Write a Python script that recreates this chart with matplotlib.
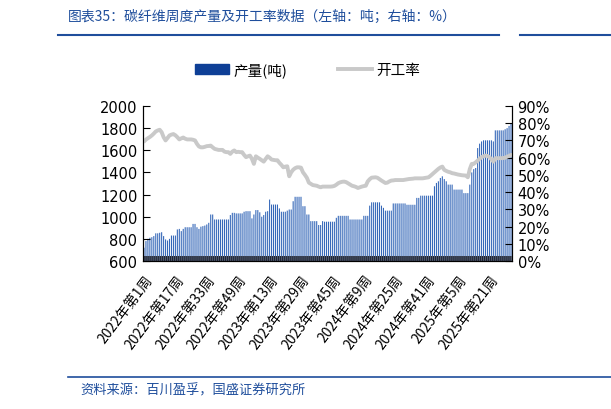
import matplotlib
matplotlib.use('Agg')
import matplotlib.pyplot as plt
from matplotlib.patches import Patch
from matplotlib.lines import Line2D

plt.rcParams['font.family'] = ['DejaVu Sans', 'Noto Sans CJK SC']

# weekly data, 2022 week 1 .. 2025 week 32
output = [
    720, 780, 800, 810, 815, 825, 850, 850, 855, 860,
    825, 795, 785, 800, 830, 830, 830, 885, 890, 870,
    890, 905, 905, 905, 905, 935, 935, 905, 890, 910,
    915, 920, 930, 945, 1020, 1020, 975, 975, 975, 975,
    975, 975, 975, 975, 1015, 1035, 1035, 1030, 1030, 1030,
    1030, 1045, 1050, 1050, 1050, 985, 1020, 1060, 1060, 1040,
    1000, 1015, 1045, 1050, 1155, 1110, 1110, 1110, 1110, 1075,
    1045, 1045, 1045, 1055, 1065, 1065, 1140, 1180, 1180, 1180,
    1180, 1095, 1095, 1020, 1020, 960, 960, 960, 960, 925,
    925, 960, 955, 955, 955, 955, 955, 955, 990, 1008,
    1008, 1008, 1008, 1008, 1008, 975, 975, 975, 975, 975,
    975, 975, 1008, 1008, 1008, 1100, 1130, 1130, 1130, 1130,
    1130, 1100, 1080, 1055, 1055, 1055, 1055, 1120, 1120, 1120,
    1120, 1120, 1120, 1120, 1108, 1108, 1108, 1108, 1108, 1170,
    1170, 1190, 1190, 1190, 1190, 1190, 1190, 1190, 1275, 1305,
    1320, 1350, 1365, 1340, 1320, 1290, 1290, 1290, 1245, 1245,
    1245, 1245, 1245, 1213, 1213, 1213, 1290, 1400, 1430, 1440,
    1620, 1660, 1680, 1690, 1690, 1690, 1690, 1690, 1680, 1780,
    1780, 1780, 1780, 1780, 1790, 1800, 1820, 1845,
]

rate = [
    69.4, 70.5, 71.3, 72.0, 72.9, 74.0, 75.2, 75.8, 76.2, 74.8,
    71.9, 70.0, 71.5, 72.9, 73.4, 73.7, 73.0, 71.9, 70.6, 71.2,
    71.7, 71.0, 70.6, 70.6, 70.6, 70.4, 70.0, 68.0, 66.5, 66.0,
    66.0, 66.3, 66.7, 66.8, 67.0, 66.0, 65.1, 64.8, 64.5, 64.5,
    64.5, 63.5, 63.2, 63.2, 62.2, 63.5, 64.2, 63.2, 63.4, 63.2,
    63.2, 61.6, 60.3, 60.8, 61.2, 59.3, 56.4, 60.8, 60.0, 59.3,
    58.5, 57.7, 59.3, 60.8, 60.0, 58.9, 58.7, 58.5, 58.5, 57.0,
    55.8, 54.4, 54.8, 55.0, 49.2, 51.5, 53.0, 53.9, 54.4, 54.4,
    54.2, 51.5, 50.0, 48.3, 45.5, 44.8, 44.1, 43.9, 43.7, 43.2,
    42.8, 43.2, 43.2, 43.2, 43.2, 43.2, 43.3, 43.6, 44.3, 45.2,
    45.7, 46.0, 46.1, 45.8, 45.1, 44.4, 43.7, 43.4, 43.0, 42.4,
    42.8, 43.2, 43.5, 43.7, 46.2, 47.5, 48.4, 48.5, 48.6, 48.3,
    47.5, 46.7, 46.0, 45.3, 45.5, 46.2, 46.7, 46.8, 47.0, 47.0,
    47.0, 47.0, 47.0, 47.2, 47.4, 47.6, 47.7, 47.8, 48.0, 48.0,
    48.0, 48.0, 48.0, 48.2, 48.4, 48.6, 49.5, 50.5, 51.5, 52.5,
    53.5, 54.3, 54.8, 52.9, 52.3, 51.8, 51.5, 51.0, 50.8, 50.5,
    50.2, 50.0, 49.8, 49.7, 49.6, 48.6, 53.4, 56.4, 56.4, 57.3,
    58.3, 59.3, 60.3, 60.8, 61.2, 61.0, 60.3, 59.0, 57.7, 59.7,
    59.7, 59.7, 59.7, 59.8, 59.9, 60.6, 61.0, 61.6,
]

tick_every = 16
tick_labels = ['2022年第1周', '2022年第17周', '2022年第33周', '2022年第49周',
               '2023年第13周', '2023年第29周', '2023年第45周', '2024年第9周',
               '2024年第25周', '2024年第41周', '2025年第5周', '2025年第21周']

BAR_BLUE = '#3467b8'
LEGEND_BLUE = '#0e3f96'
LINE_GRAY = '#c9c9c9'
TEXT_BLUE = '#1f4e9c'

x = list(range(len(output)))

fig = plt.figure(figsize=(6.11, 4.10), dpi=100)
ax = fig.add_axes([143 / 611, 1 - 262 / 410, (512 - 143) / 611, (262 - 107) / 410])

# snap off so the thin bars antialias evenly instead of clumping into blocks
ax.bar(x, [v - 600 for v in output], bottom=600, width=0.55, color=BAR_BLUE,
       linewidth=0, snap=False)
ax.set_ylim(600, 2000)
ax.set_yticks(range(600, 2001, 200))
ax.set_xlim(-0.5, len(output) - 0.5)

# dense week tick marks along the bottom
ax.axhspan(600, 645, color='#5a6478', lw=0, zorder=2.5)
ax.vlines([i + 0.5 for i in x[:-1]], 600, 645, colors='#1e2433', lw=0.8, snap=False, zorder=3)

ax2 = ax.twinx()
ax2.plot(x, rate, color=LINE_GRAY, lw=2.8, solid_capstyle='round')
ax2.set_ylim(0, 90)
ax2.set_yticks(range(0, 91, 10))
ax2.set_yticklabels([f'{v}%' for v in range(0, 91, 10)])

ax.set_xticks([i * tick_every for i in range(len(tick_labels))])
ax.set_xticklabels(tick_labels, rotation=53, ha='right', va='top', rotation_mode='anchor',
                   family=['Noto Sans CJK SC', 'DejaVu Sans'], fontsize=10)
ax.tick_params(axis='x', length=0, pad=8)
ax.tick_params(axis='y', direction='in', length=5, width=0.8, labelsize=10.5, pad=4)
ax2.tick_params(axis='y', direction='in', length=5, width=0.8, labelsize=10.5, pad=4)

for a in (ax, ax2):
    a.spines['top'].set_visible(False)
    a.spines['left'].set_linewidth(0.8)
    a.spines['right'].set_linewidth(0.8)
    a.spines['bottom'].set_linewidth(0.8)

handles = [Patch(color=LEGEND_BLUE), Line2D([], [], color=LINE_GRAY, lw=2.8)]
fig.legend(handles, ['产量(吨)', '开工率'], loc='center left', ncol=2,
           bbox_to_anchor=(182 / 611, 1 - 71 / 410), frameon=False,
           prop={'family': ['Noto Sans CJK SC'], 'size': 10.5},
           handlelength=2.3, handleheight=0.7, columnspacing=3.5, handletextpad=0.3)

fig.text(68 / 611, 1 - 17 / 410, '图表35：碳纤维周度产量及开工率数据（左轴：吨；右轴：%）',
         color=TEXT_BLUE, fontsize=10, style='italic', va='center',
         family=['Noto Sans CJK SC', 'DejaVu Sans'])
fig.add_artist(Line2D([58 / 611, 499 / 611], [1 - 36 / 410, 1 - 36 / 410],
                      color=TEXT_BLUE, lw=1.5))
fig.add_artist(Line2D([520 / 611, 1.0], [1 - 36 / 410, 1 - 36 / 410],
                      color=TEXT_BLUE, lw=1.5))
fig.add_artist(Line2D([68 / 611, 1.0], [1 - 378 / 410, 1 - 378 / 410],
                      color=TEXT_BLUE, lw=1.2))
fig.text(80 / 611, 1 - 391 / 410, '资料来源：百川盈孚，国盛证券研究所',
         color=TEXT_BLUE, fontsize=9.5, style='italic', va='center',
         family=['Noto Sans CJK SC', 'DejaVu Sans'])

fig.savefig('out.png', dpi=100)
